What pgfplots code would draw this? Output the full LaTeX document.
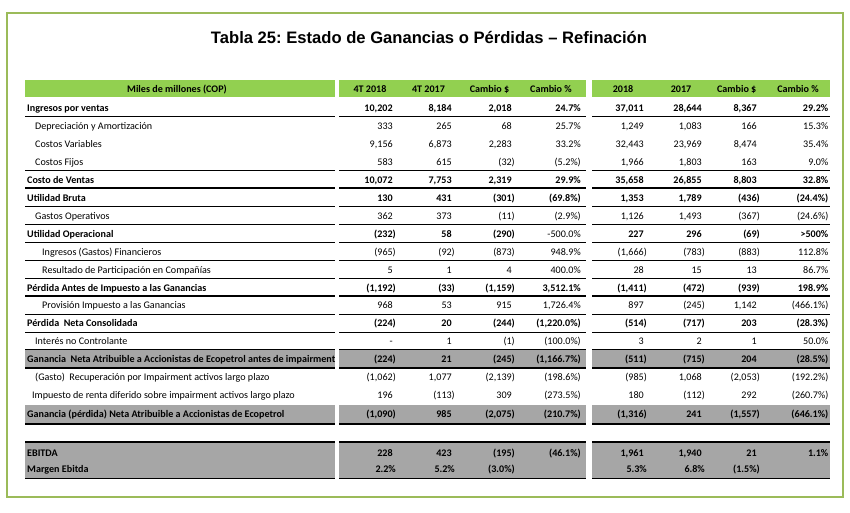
\documentclass[border=0pt]{standalone}
\usepackage{pgfplots}
\pgfplotsset{compat=1.18}
\usepackage{pgfplotstable}
\usepackage{fontspec}
\setmainfont{Carlito}
\newfontfamily\titlefont{Liberation Sans}
\definecolor{hdr}{RGB}{146,208,80}
\definecolor{gr}{RGB}{166,166,166}
\definecolor{framec}{RGB}{155,187,89}
\protected\def\Bf{\bfseries}
\protected\def\Pp{\hphantom{)}}
\protected\def\Ds{\hspace{2.2pt}}
\frenchspacing

\pgfplotstableread[col sep=semicolon,row sep=\\]{
y;lx;lab;a;b;c;d;e;f;g;h\\
112.0;27;\Bf Ingresos por ventas;\Bf 10,202\Pp;\Bf 8,184\Pp;\Bf 2,018\Pp;\Bf 24.7\%;\Bf 37,011\Pp;\Bf 28,644\Pp;\Bf 8,367\Pp;\Bf 29.2\%\\
129.9;35;Depreciación y Amortización;333\Pp;265\Pp;68\Pp;25.7\%;1,249\Pp;1,083\Pp;166\Pp;15.3\%\\
147.8;35;Costos Variables;9,156\Pp;6,873\Pp;2,283\Pp;33.2\%;32,443\Pp;23,969\Pp;8,474\Pp;35.4\%\\
165.7;35;Costos Fijos;583\Pp;615\Pp;(32);(5.2\%);1,966\Pp;1,803\Pp;163\Pp;9.0\%\\
183.6;27;\Bf Costo de Ventas;\Bf 10,072\Pp;\Bf 7,753\Pp;\Bf 2,319\Pp;\Bf 29.9\%;\Bf 35,658\Pp;\Bf 26,855\Pp;\Bf 8,803\Pp;\Bf 32.8\%\\
201.5;27;\Bf Utilidad Bruta;\Bf 130\Pp;\Bf 431\Pp;\Bf (301);\Bf (69.8\%);\Bf 1,353\Pp;\Bf 1,789\Pp;\Bf (436);\Bf (24.4\%)\\
219.4;35;Gastos Operativos;362\Pp;373\Pp;(11);(2.9\%);1,126\Pp;1,493\Pp;(367);(24.6\%)\\
237.3;27;\Bf Utilidad Operacional;\Bf (232);\Bf 58\Pp;\Bf (290);-500.0\%;\Bf 227\Pp;\Bf 296\Pp;\Bf (69);\Bf >500\%\\
255.2;42;Ingresos (Gastos) Financieros;(965);(92);(873);948.9\%;(1,666);(783);(883);112.8\%\\
273.1;42;Resultado de Participación en Compañías;5\Pp;1\Pp;4\Pp;400.0\%;28\Pp;15\Pp;13\Pp;86.7\%\\
291.0;27;\Bf Pérdida Antes de Impuesto a las Ganancias;\Bf (1,192);\Bf (33);\Bf (1,159);\Bf 3,512.1\%;\Bf (1,411);\Bf (472);\Bf (939);\Bf 198.9\%\\
308.9;42;Provisión Impuesto a las Ganancias;968\Pp;53\Pp;915\Pp;1,726.4\%;897\Pp;(245);1,142\Pp;(466.1\%)\\
326.8;27;\Bf Pérdida \Ds Neta Consolidada;\Bf (224);\Bf 20\Pp;\Bf (244);\Bf (1,220.0\%);\Bf (514);\Bf (717);\Bf 203\Pp;\Bf (28.3\%)\\
344.7;35;Interés no Controlante;-\Pp;1\Pp;(1);(100.0\%);3\Pp;2\Pp;1\Pp;50.0\%\\
362.6;27;\Bf Ganancia \Ds Neta Atribuible a Accionistas de Ecopetrol antes de impairment;\Bf (224);\Bf 21\Pp;\Bf (245);\Bf (1,166.7\%);\Bf (511);\Bf (715);\Bf 204\Pp;\Bf (28.5\%)\\
380.5;35;(Gasto) \Ds Recuperación por Impairment activos largo plazo;(1,062);1,077\Pp;(2,139);(198.6\%);(985);1,068\Pp;(2,053);(192.2\%)\\
398.4;32;Impuesto de renta diferido sobre impairment activos largo plazo;196\Pp;(113);309\Pp;(273.5\%);180\Pp;(112);292\Pp;(260.7\%)\\
417.5;27;\Bf Ganancia (pérdida) Neta Atribuible a Accionistas de Ecopetrol;\Bf (1,090);\Bf 985\Pp;\Bf (2,075);\Bf (210.7\%);\Bf (1,316);\Bf 241\Pp;\Bf (1,557);\Bf (646.1\%)\\
456.0;27;\Bf EBITDA;\Bf 228\Pp;\Bf 423\Pp;\Bf (195);\Bf (46.1\%);\Bf 1,961\Pp;\Bf 1,940\Pp;\Bf 21\Pp;\Bf 1.1\%\\
472.5;27;\Bf Margen Ebitda;\Bf 2.2\%;\Bf 5.2\%;\Bf (3.0\%);{};\Bf 5.3\%;\Bf 6.8\%;\Bf (1.5\%);{}\\
}\rows

\pgfplotstableread[col sep=semicolon,row sep=\\]{
x;lab\\
177;Miles de millones (COP)\\
370;4T 2018\\
428.5;4T 2017\\
489.5;Cambio \$\\
551;Cambio \%\\
623;2018\\
681;2017\\
736.7;Cambio \$\\
798;Cambio \%\\
}\heads

\newcommand\hl[2]{%
  \draw[line width=#2] (axis cs:25,#1) -- (axis cs:335,#1)
    (axis cs:339,#1) -- (axis cs:586,#1)
    (axis cs:592,#1) -- (axis cs:830,#1);}
\newcommand\band[3]{%
  \fill[#3] (axis cs:25,#1) rectangle (axis cs:335,#2);
  \fill[#3] (axis cs:339,#1) rectangle (axis cs:586,#2);
  \fill[#3] (axis cs:592,#1) rectangle (axis cs:830,#2);}

\begin{document}
\begin{tikzpicture}
\begin{axis}[hide axis, scale only axis, width=850pt, height=513pt,
  xmin=0, xmax=850, ymin=0, ymax=513, y dir=reverse, clip=false,
  nodes near coords, point meta=explicit symbolic,
  nodes near coords style={inner sep=0pt, text=black, font=\fontsize{10.1}{12}\selectfont}]
\path (axis cs:0,0) rectangle (axis cs:850,513);
\draw[framec, line width=1.6pt] (axis cs:7,13) rectangle (axis cs:843,497);
\node[anchor=base, inner sep=0pt, font=\titlefont\bfseries\fontsize{16.6}{20}\selectfont] at (axis cs:429,44) {Tabla 25: Estado de Ganancias o Pérdidas – Refinación};
\band{80}{97}{hdr}
\band{349.5}{368}{gr}
\band{405}{424}{gr}
\band{442}{478}{gr}
\hl{117}{1pt}
\hl{170}{1pt}
\hl{188}{2pt}
\hl{206}{1pt}
\hl{224}{1pt}
\hl{242}{1pt}
\hl{260}{1pt}
\hl{278}{1pt}
\hl{296}{2.5pt}
\hl{314}{1pt}
\hl{332}{1pt}
\hl{349.5}{1pt}
\hl{368}{2pt}
\hl{424}{2.5pt}
\hl{442}{2pt}
\hl{478}{1pt}
\addplot[draw=none, mark=none, nodes near coords align={anchor=base}, nodes near coords style={font=\fontsize{10.1}{12}\selectfont\bfseries}] table[x=x, y expr=93, meta=lab] {\heads};
\addplot[draw=none, mark=none, nodes near coords align={anchor=base west}] table[x=lx, y=y, meta=lab] {\rows};
\addplot[draw=none, mark=none, nodes near coords align={anchor=base east}] table[x expr=396, y=y, meta=a] {\rows};
\addplot[draw=none, mark=none, nodes near coords align={anchor=base east}] table[x expr=455, y=y, meta=b] {\rows};
\addplot[draw=none, mark=none, nodes near coords align={anchor=base east}] table[x expr=515, y=y, meta=c] {\rows};
\addplot[draw=none, mark=none, nodes near coords align={anchor=base east}] table[x expr=581, y=y, meta=d] {\rows};
\addplot[draw=none, mark=none, nodes near coords align={anchor=base east}] table[x expr=647, y=y, meta=e] {\rows};
\addplot[draw=none, mark=none, nodes near coords align={anchor=base east}] table[x expr=705, y=y, meta=f] {\rows};
\addplot[draw=none, mark=none, nodes near coords align={anchor=base east}] table[x expr=760, y=y, meta=g] {\rows};
\addplot[draw=none, mark=none, nodes near coords align={anchor=base east}] table[x expr=828.5, y=y, meta=h] {\rows};
\end{axis}
\end{tikzpicture}
\end{document}
